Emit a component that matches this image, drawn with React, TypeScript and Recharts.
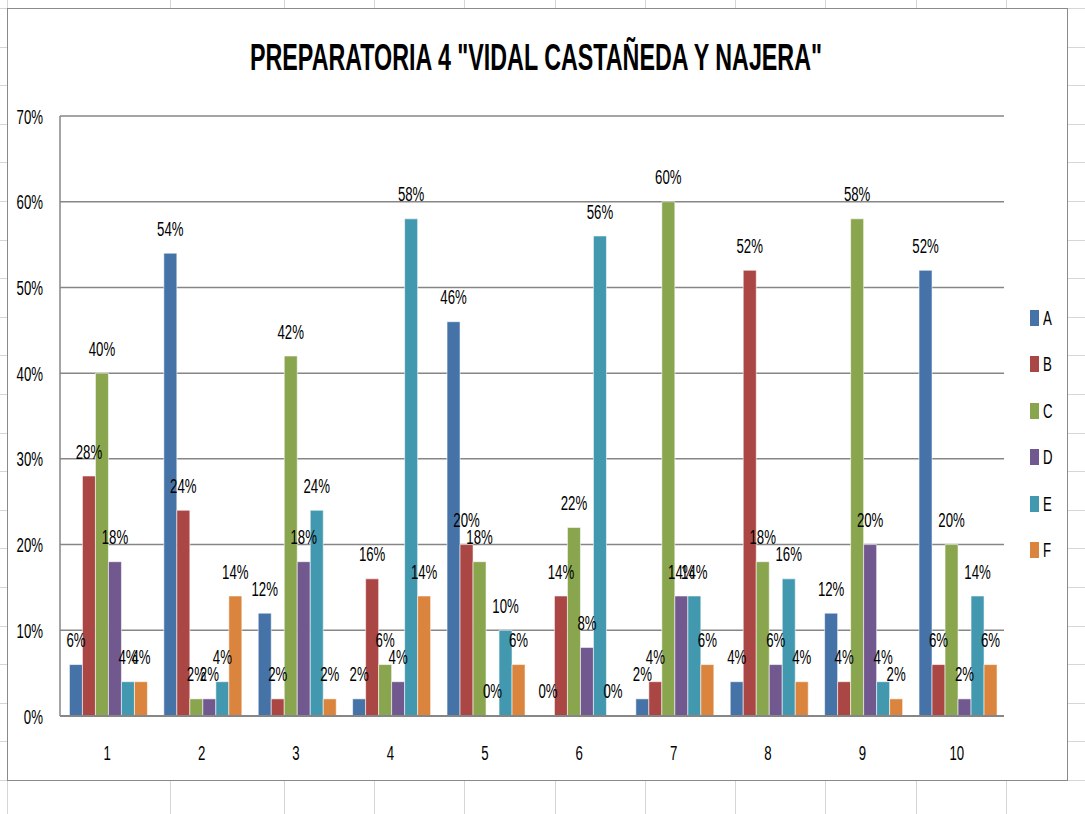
import React from 'react'
import { BarChart, Bar, XAxis, YAxis, CartesianGrid, LabelList } from 'recharts'

// Preguntas 1..10, porcentaje por opción A–F
const CATEGORIES = ['1', '2', '3', '4', '5', '6', '7', '8', '9', '10']
const SERIES = ['A', 'B', 'C', 'D', 'E', 'F']
const A_VALUES = [6, 54, 12, 2, 46, 0, 2, 4, 12, 52]
const B_VALUES = [28, 24, 2, 16, 20, 14, 4, 52, 4, 6]
const C_VALUES = [40, 2, 42, 6, 18, 22, 60, 18, 58, 20]
const D_VALUES = [18, 2, 18, 4, 0, 8, 14, 6, 20, 2]
const E_VALUES = [4, 4, 24, 58, 10, 56, 14, 16, 4, 14]
const F_VALUES = [4, 14, 2, 14, 6, 0, 6, 4, 2, 6]
const Y_TICKS = [0, 10, 20, 30, 40, 50, 60, 70]
const TITLE = 'PREPARATORIA 4 "VIDAL CASTAÑEDA Y NAJERA"'

const COLORS = ['#4572A7', '#AA4643', '#89A54E', '#71588F', '#4198AF', '#DB843D']
const FONT = "'Liberation Sans', Arial, sans-serif"
const SQUEEZE = 0.63 // Excel text looks tall & narrow

const ALL_VALUES = [A_VALUES, B_VALUES, C_VALUES, D_VALUES, E_VALUES, F_VALUES]
const data = CATEGORIES.map((c, i) => {
  const row: Record<string, string | number> = { name: c }
  SERIES.forEach((s, j) => {
    row[s] = ALL_VALUES[j][i]
  })
  return row
})

// spreadsheet cell lines behind the chart
const COL_LINES = [7, 170, 284, 374, 464, 555, 645, 735, 825, 916, 1006]
const ROW_LINES = Array.from({ length: 21 }, (_, k) => 8 + k * 38.6)

function NarrowText({ x, y, anchor = 'middle', children }: any) {
  return (
    <text
      transform={`translate(${x},${y}) scale(${SQUEEZE},1)`}
      textAnchor={anchor}
      fontSize={21}
      fontFamily={FONT}
      fill="#000"
    >
      {children}
    </text>
  )
}

function BarLabel(props: any) {
  const { x, y, width, value } = props
  return <NarrowText x={x + width / 2} y={y - 17.5}>{`${value}%`}</NarrowText>
}

function XTick(props: any) {
  const { x, y, payload } = props
  return <NarrowText x={x} y={y + 43.5}>{payload.value}</NarrowText>
}

function YTick(props: any) {
  const { x, y, payload } = props
  return <NarrowText x={x} y={y + 7.5} anchor="end">{`${payload.value}%`}</NarrowText>
}

export default function App() {
  return (
    <div style={{ position: 'absolute', left: 0, top: 0, width: 1085, height: 814, background: '#fff', overflow: 'hidden' }}>
      {COL_LINES.map((x) => (
        <div key={`c${x}`} style={{ position: 'absolute', left: x, top: 0, width: 1, height: 814, background: '#d6d6d6' }} />
      ))}
      {ROW_LINES.map((y) => (
        <div key={`r${y}`} style={{ position: 'absolute', left: 0, top: y, width: 1085, height: 1, background: '#d6d6d6' }} />
      ))}

      <div
        style={{
          position: 'absolute',
          left: 7,
          top: 8,
          width: 1061,
          height: 773,
          background: '#fff',
          boxSizing: 'border-box',
          border: '1.5px solid #8a8a8a',
        }}
      />

      <div style={{ position: 'absolute', left: 7, top: 8 }}>
        <BarChart
          width={1061}
          height={773}
          data={data}
          margin={{ top: 108, right: 64, bottom: 0, left: 0 }}
          barCategoryGap="10%"
          barGap={0}
        >
          <CartesianGrid vertical={false} stroke="#868686" strokeWidth={1.5} />
          <XAxis
            dataKey="name"
            height={65}
            tickLine={false}
            tickSize={0}
            tickMargin={0}
            axisLine={{ stroke: '#868686', strokeWidth: 2 }}
            tick={XTick}
          />
          <YAxis
            width={53}
            domain={[0, 70]}
            ticks={Y_TICKS}
            tickLine={false}
            tickSize={0}
            tickMargin={17}
            axisLine={{ stroke: '#868686', strokeWidth: 1.5 }}
            tick={YTick}
          />
          {SERIES.map((s, i) => (
            <Bar
              key={s}
              dataKey={s}
              fill={COLORS[i]}
              stroke="rgba(255,255,255,0.7)"
              strokeWidth={0.8}
              minPointSize={(v: number) => (v === 0 ? 0.01 : 0)}
              isAnimationActive={false}
            >
              <LabelList dataKey={s} content={BarLabel} />
            </Bar>
          ))}
        </BarChart>
      </div>

      <svg style={{ position: 'absolute', left: 0, top: 0 }} width={1085} height={100}>
        <text
          x={536}
          y={70}
          textAnchor="middle"
          textLength={572}
          lengthAdjust="spacingAndGlyphs"
          fontSize={37.5}
          fontWeight="bold"
          fontFamily={FONT}
          fill="#000"
        >
          {TITLE}
        </text>
      </svg>

      {SERIES.map((s, i) => (
        <div
          key={s}
          style={{
            position: 'absolute',
            left: 1030,
            top: 318 + i * 46.4 - 8,
            height: 16,
            display: 'flex',
            alignItems: 'center',
            fontFamily: FONT,
            fontSize: 21,
            color: '#000',
          }}
        >
          <span style={{ display: 'inline-block', width: 9, height: 16, background: COLORS[i], marginRight: 4 }} />
          <span style={{ display: 'inline-block', transform: `scaleX(${SQUEEZE})`, transformOrigin: 'left center' }}>{s}</span>
        </div>
      ))}
    </div>
  )
}
